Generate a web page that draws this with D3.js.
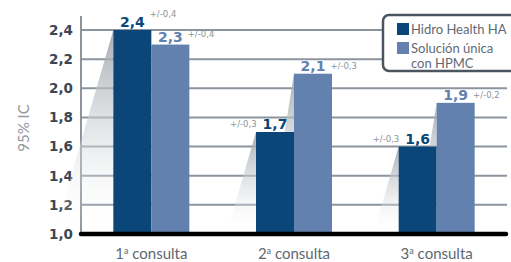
<!DOCTYPE html>
<html>
<head>
<meta charset="utf-8">
<script src="https://cdnjs.cloudflare.com/ajax/libs/d3/7.8.5/d3.min.js"></script>
<style>
  html, body { margin: 0; padding: 0; background: #fff; }
  svg { display: block; }
</style>
</head>
<body>
<div id="chart"></div>
<script>
// data
const consultas = ['1', '2', '3'];
const seriesNames = ['Hidro Health HA', 'Solución única|con HPMC'];
const hidroValues = [2.4, 1.7, 1.6];
const hpmcValues = [2.3, 2.1, 1.9];
const hidroErr = ['0,4', '0,3', '0,3'];
const hpmcErr = ['0,4', '0,3', '0,2'];
const yTicks = [1.0, 1.2, 1.4, 1.6, 1.8, 2.0, 2.2, 2.4];

const width = 511;
const height = 262;
const colors = ['#0a4778', '#6281ae'];
const gridColor = '#8c959e';
const fmt = v => d3.format('.1f')(v).replace('.', ',');

const svg = d3.select('#chart')
  .append('svg')
  .attr('width', width)
  .attr('height', height)
  ;

const x = d3.scaleBand()
  .domain(consultas)
  .range([80, 508])
  ;

const xInner = d3.scaleBand()
  .domain([0, 1])
  .range([-38, 38])
  ;

const y = d3.scaleLinear()
  .domain([1, 2.4])
  .range([234, 30])
  ;

const rows = consultas.map((c, i) => ({
  c,
  vals: [hidroValues[i], hpmcValues[i]],
  errs: [hidroErr[i], hpmcErr[i]]
}));

// shadow gradient
const defs = svg.append('defs');
const grad = defs.append('linearGradient')
  .attr('id', 'shade')
  .attr('x1', 0).attr('y1', 0)
  .attr('x2', 0).attr('y2', 1)
  ;
grad.append('stop').attr('offset', '0%').attr('stop-color', '#9da2a8').attr('stop-opacity', 0.9);
grad.append('stop').attr('offset', '55%').attr('stop-color', '#d4d7da').attr('stop-opacity', 0.5);
grad.append('stop').attr('offset', '100%').attr('stop-color', '#ffffff').attr('stop-opacity', 0);

// grid lines
svg.append('g')
  .selectAll('line')
  .data(yTicks.slice(1))
  .join('line')
  .attr('x1', 81)
  .attr('x2', 507)
  .attr('y1', d => y(d))
  .attr('y2', d => y(d))
  .attr('stroke', gridColor)
  .attr('stroke-width', 2)
  ;

// y axis line
svg.append('line')
  .attr('x1', 81).attr('x2', 81)
  .attr('y1', 16).attr('y2', y(1))
  .attr('stroke', gridColor)
  .attr('stroke-width', 2)
  ;

// tick labels
svg.append('g')
  .selectAll('text')
  .data(yTicks)
  .join('text')
  .attr('x', 73)
  .attr('y', d => y(d))
  .attr('dy', '0.36em')
  .attr('text-anchor', 'end')
  .attr('fill', '#3b4654')
  .style('font-family', 'DejaVu Sans')
  .style('font-weight', 'bold')
  .style('font-size', '13.5px')
  .text(fmt)
  ;

// y title
svg.append('text')
  .attr('transform', `translate(29,${128}) rotate(-90)`)
  .attr('text-anchor', 'middle')
  .attr('fill', '#929aa2')
  .style('font-family', 'Lato')
  .style('font-size', '15px')
  .text('95% IC')
  ;

const groups = svg.append('g')
  .selectAll('g')
  .data(rows)
  .join('g')
  .attr('transform', d => `translate(${x(d.c) + x.bandwidth() / 2},0)`)
  ;

const slopes = [0.29, 0.16];

// shadows behind the bars
groups.selectAll('path.shadow')
  .data(d => d.vals.map((v, k) => ({ v, k })).reverse())
  .join('path')
  .attr('class', 'shadow')
  .attr('fill', 'url(#shade)')
  .attr('d', d => {
    const x0 = xInner(d.k);
    const top = y(d.v);
    const base = y(1);
    return `M${x0},${top} L${x0 - slopes[d.k] * (base - top)},${base} L${x0},${base} Z`;
  })
  ;

// bars
groups.selectAll('rect')
  .data(d => d.vals.map((v, k) => ({ v, k })))
  .join('rect')
  .attr('x', d => xInner(d.k))
  .attr('y', d => y(d.v))
  .attr('width', xInner.bandwidth())
  .attr('height', d => y(1) - y(d.v))
  .attr('fill', d => colors[d.k])
  ;

// value labels + error text
groups.each(function(d) {
  const g = d3.select(this);
  d.vals.forEach((v, k) => {
    const cx = xInner(k) + xInner.bandwidth() / 2;
    const by = y(v) - 3;
    const label = g.append('text')
      .attr('x', cx)
      .attr('y', by)
      .attr('text-anchor', 'middle')
      .attr('fill', colors[k])
      .style('font-family', 'DejaVu Sans')
      .style('font-weight', 'bold')
      .style('font-size', '14px')
      .text(fmt(v))
      ;
    const w = label.node().getComputedTextLength();
    const left = k === 0 && v < d.vals[1];
    const raise = v >= 2.3 ? (k === 0 ? 10 : 5) : 2;
    g.append('text')
      .attr('x', left ? cx - w / 2 - 6 : cx + w / 2 + 5)
      .attr('y', by - raise)
      .attr('text-anchor', left ? 'end' : 'start')
      .attr('fill', '#8d939a')
      .style('font-family', 'DejaVu Sans')
      .style('font-size', '8.5px')
      .text('+/-' + d.errs[k])
      ;
  });
});

// x labels
const xl = svg.append('g')
  .selectAll('text')
  .data(consultas)
  .join('text')
  .attr('x', d => x(d) + x.bandwidth() / 2)
  .attr('y', 259)
  .attr('text-anchor', 'middle')
  .attr('fill', '#60686f')
  .style('font-family', 'Lato')
  .style('font-size', '15px')
  ;
xl.append('tspan').text(d => d);
xl.append('tspan')
  .attr('dy', -5)
  .style('font-size', '9px')
  .text('a');
xl.append('tspan')
  .attr('dy', 5)
  .text(' consulta');

// baseline
svg.append('line')
  .attr('x1', 81).attr('x2', 506)
  .attr('y1', y(1)).attr('y2', y(1))
  .attr('stroke', '#000')
  .attr('stroke-width', 4.5)
  .attr('stroke-linecap', 'round')
  ;

// legend
const legend = svg.append('g');
legend.append('rect')
  .attr('x', 383)
  .attr('y', 15)
  .attr('width', 140)
  .attr('height', 56)
  .attr('rx', 6)
  .attr('fill', '#fff')
  .attr('stroke', '#4b5560')
  .attr('stroke-width', 2.5)
  ;
const items = legend.selectAll('g')
  .data(seriesNames)
  .join('g')
  .attr('transform', (d, i) => `translate(397,${23 + i * 19})`)
  ;
items.append('rect')
  .attr('width', 12)
  .attr('height', 12)
  .attr('fill', (d, i) => colors[i])
  ;
items.append('text')
  .attr('fill', '#5f6973')
  .style('font-family', 'Lato')
  .style('font-size', '13px')
  .selectAll('tspan')
  .data(d => d.split('|'))
  .join('tspan')
  .attr('x', 14)
  .attr('y', (d, j) => 11 + j * 14.5)
  .text(d => d)
  ;
</script>
</body>
</html>
